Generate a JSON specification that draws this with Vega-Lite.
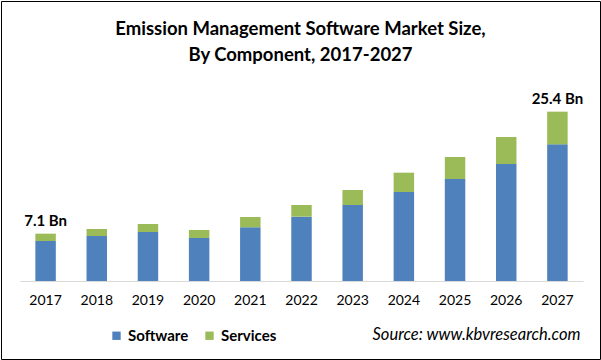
{
  "$schema": "https://vega.github.io/schema/vega-lite/v6.json",
  "width": 599,
  "height": 358,
  "autosize": {"type": "none"},
  "padding": 1,
  "background": "white",
  "config": {
    "view": {"stroke": "#000000", "strokeWidth": 1},
    "font": "Lato"
  },
  "title": {
    "text": ["Emission Management Software Market Size,", "By Component, 2017-2027"],
    "font": "Lato",
    "fontSize": 18.5,
    "fontWeight": "bold",
    "color": "#000000",
    "lineHeight": 26,
    "anchor": "middle",
    "baseline": "top",
    "offset": -63
  },
  "datasets": {
    "bars": [
      {"year": "2017", "component": "Software", "value": 6.0},
      {"year": "2017", "component": "Services", "value": 1.1},
      {"year": "2018", "component": "Software", "value": 6.75},
      {"year": "2018", "component": "Services", "value": 1.05},
      {"year": "2019", "component": "Software", "value": 7.35},
      {"year": "2019", "component": "Services", "value": 1.2},
      {"year": "2020", "component": "Software", "value": 6.45},
      {"year": "2020", "component": "Services", "value": 1.2},
      {"year": "2021", "component": "Software", "value": 8.05},
      {"year": "2021", "component": "Services", "value": 1.55},
      {"year": "2022", "component": "Software", "value": 9.65},
      {"year": "2022", "component": "Services", "value": 1.75},
      {"year": "2023", "component": "Software", "value": 11.4},
      {"year": "2023", "component": "Services", "value": 2.25},
      {"year": "2024", "component": "Software", "value": 13.35},
      {"year": "2024", "component": "Services", "value": 2.9},
      {"year": "2025", "component": "Software", "value": 15.3},
      {"year": "2025", "component": "Services", "value": 3.3},
      {"year": "2026", "component": "Software", "value": 17.55},
      {"year": "2026", "component": "Services", "value": 4.05},
      {"year": "2027", "component": "Software", "value": 20.5},
      {"year": "2027", "component": "Services", "value": 4.9}
    ],
    "labels": [
      {"year": "2017", "total": 7.1, "label": "7.1 Bn"},
      {"year": "2027", "total": 25.4, "label": "25.4 Bn"}
    ]
  },
  "layer": [
    {
      "data": {"name": "bars"},
      "mark": {"type": "bar"},
      "encoding": {
        "x": {
          "field": "year",
          "type": "ordinal",
          "scale": {"range": [19, 582], "paddingInner": 0.6, "paddingOuter": 0.3},
          "axis": {
            "title": "Source: www.kbvresearch.com",
            "titleFont": "Lato",
            "titleFontStyle": "italic",
            "titleFontWeight": "normal",
            "titleFontSize": 16.5,
            "titleColor": "#000000",
            "titleAlign": "right",
            "titleAnchor": null,
            "titleBaseline": "alphabetic",
            "titleX": 579,
            "titleY": 58,
            "offset": -78,
            "domainColor": "#d9d9d9",
            "domainWidth": 1,
            "ticks": false,
            "labelAngle": 0,
            "labelFont": "Lato",
            "labelFontSize": 14,
            "labelColor": "#000000",
            "labelPadding": 12
          }
        },
        "y": {
          "field": "value",
          "type": "quantitative",
          "stack": "zero",
          "scale": {"domain": [0, 30], "range": [280, 80], "nice": false, "zero": true},
          "axis": null
        },
        "color": {
          "field": "component",
          "type": "nominal",
          "scale": {"domain": ["Software", "Services"], "range": ["#4F81BD", "#9BBB59"]},
          "legend": {
            "title": null,
            "orient": "none",
            "legendX": 108,
            "legendY": 327,
            "direction": "horizontal",
            "symbolType": "square",
            "symbolSize": 70,
            "symbolStrokeWidth": 0,
            "labelFont": "Lato",
            "labelFontSize": 15,
            "labelFontWeight": "bold",
            "labelColor": "#000000",
            "labelOffset": 4,
            "columnPadding": 13
          }
        },
        "order": {"field": "component", "sort": "descending"}
      }
    },
    {
      "data": {"name": "labels"},
      "mark": {"type": "text", "font": "Lato", "fontSize": 15, "fontWeight": "bold", "color": "#000000", "baseline": "alphabetic", "dy": -8},
      "encoding": {
        "x": {"field": "year", "type": "ordinal"},
        "y": {"field": "total", "type": "quantitative"},
        "text": {"field": "label"}
      }
    }
  ]
}
